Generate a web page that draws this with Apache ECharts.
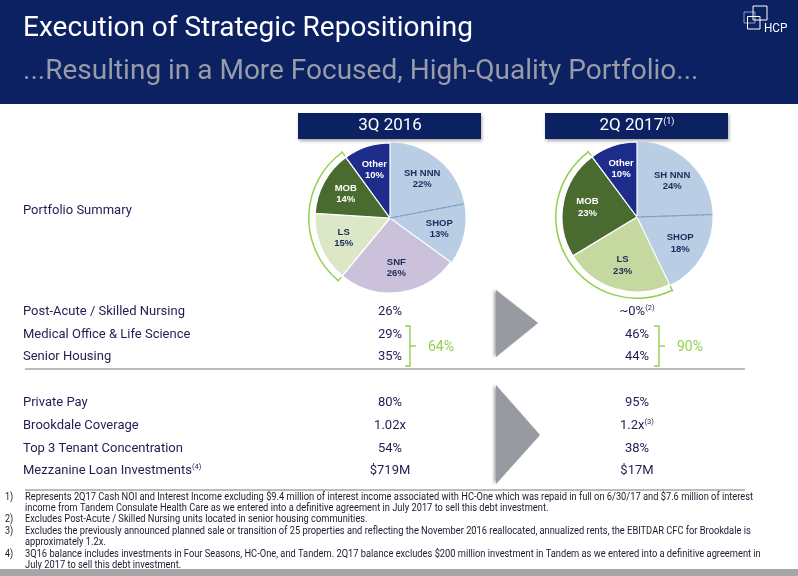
<!DOCTYPE html>
<html><head><meta charset="utf-8">
<script src="https://cdn.jsdelivr.net/npm/echarts@6/dist/echarts.min.js"></script>
<style>html,body{margin:0;padding:0;background:#fff}#c{width:798px;height:576px}</style>
</head><body><div id="c"></div>
<script>
// ---------- data ----------
const titleText = 'Execution of Strategic Repositioning';
const subtitleText = '...Resulting in a More Focused, High-Quality Portfolio...';
const periods = ['3Q 2016', '2Q 2017'];
const periodNotes = ['', '(1)'];
const pie1Categories = ['SH NNN', 'SHOP', 'SNF', 'LS', 'MOB', 'Other'];
const pie1Values = [22, 13, 26, 15, 14, 10];
const pie2Categories = ['SH NNN', 'SHOP', 'LS', 'MOB', 'Other'];
const pie2Values = [24, 18, 23, 23, 10];
const bracketCategories = ['LS', 'MOB'];
const summaryLabel = 'Portfolio Summary';
const mixRows = ['Post-Acute / Skilled Nursing', 'Medical Office & Life Science', 'Senior Housing'];
const mixRowNotes = ['', '', ''];
const mix3Q16 = ['26%', '29%', '35%'];
const mix2Q17 = ['~0%', '46%', '44%'];
const mix2Q17Notes = ['(2)', '', ''];
const mixTotals = ['64%', '90%'];
const metricRows = ['Private Pay', 'Brookdale Coverage', 'Top 3 Tenant Concentration', 'Mezzanine Loan Investments'];
const metricRowNotes = ['', '', '', '(4)'];
const metric3Q16 = ['80%', '1.02x', '54%', '$719M'];
const metric2Q17 = ['95%', '1.2x', '38%', '$17M'];
const metric2Q17Notes = ['', '(3)', '', ''];
const footnoteNums = ['1)', '', '2)', '3)', '', '4)', ''];
const footnoteLines = [
  'Represents 2Q17 Cash NOI and Interest Income excluding $9.4 million of interest income associated with HC-One which was repaid in full on 6/30/17 and $7.6 million of interest',
  'income from Tandem Consulate Health Care as we entered into a definitive agreement in July 2017 to sell this debt investment.',
  'Excludes Post-Acute / Skilled Nursing units located in senior housing communities.',
  'Excludes the previously announced planned sale or transition of 25 properties and reflecting the November 2016 reallocated, annualized rents, the EBITDAR CFC for Brookdale is',
  'approximately 1.2x.',
  '3Q16 balance includes investments in Four Seasons, HC-One, and Tandem. 2Q17 balance excludes $200 million investment in Tandem as we entered into a definitive agreement in',
  'July 2017 to sell this debt investment.'
];

// ---------- styles ----------
const NAVY = '#0b2161';
const TXT = '#1f1d52';
const GREEN = '#92d050';
const FONT = 'Roboto, "Liberation Sans", sans-serif';
const sliceColors1 = {'SH NNN': '#b9cde5', 'SHOP': '#b9cde5', 'SNF': '#ccc1da', 'LS': '#dce7c7', 'MOB': '#4a6b30', 'Other': '#1e2d8c'};
const sliceColors2 = {'SH NNN': '#b9cde5', 'SHOP': '#b9cde5', 'LS': '#c4d8a0', 'MOB': '#4a6b30', 'Other': '#1e2d8c'};
const darkSlices = ['MOB', 'Other'];

const pieCenters = [[390, 218], [637, 217]];
const pieR = 75;
const colX = [390, 637];

function mainPie(cats, vals, colors, center) {
  return {
    type: 'pie', center: center, radius: [0, pieR], startAngle: 90, clockwise: true,
    silent: true, label: {show: false}, labelLine: {show: false},
    data: cats.map((c, i) => ({
      name: c, value: vals[i],
      itemStyle: {color: colors[c], borderColor: (c === 'SH NNN' || c === 'SHOP') ? colors[c] : '#ffffff', borderWidth: 1.2}
    })),
    z: 2
  };
}
function labelPie(cats, vals, center) {
  return {
    type: 'pie', center: center, radius: [20, pieR], startAngle: 90, clockwise: true,
    silent: true, labelLine: {show: false},
    label: {show: true, position: 'inside', formatter: '{b}\n{c}%', fontFamily: '"Liberation Sans", Arial, sans-serif',
      fontWeight: 'bold', fontSize: 9.5, lineHeight: 11.5},
    data: cats.map((c, i) => ({
      name: c, value: vals[i], itemStyle: {color: 'rgba(0,0,0,0)'},
      label: {color: darkSlices.includes(c) ? '#ffffff' : '#1f2a5c'}
    })),
    z: 5
  };
}
function separatorPie(cats, vals, center) {
  const data = [];
  cats.forEach((c, i) => {
    data.push({name: c, value: vals[i], itemStyle: {color: 'rgba(0,0,0,0)', borderWidth: 0}});
    if (c === 'SH NNN') data.push({name: 'sep', value: 0, itemStyle: {color: 'rgba(0,0,0,0)', borderColor: '#7f9bc6', borderWidth: 1, borderType: 'dashed'}});
  });
  return {type: 'pie', center: center, radius: [0, pieR], startAngle: 90, clockwise: true, silent: true,
    label: {show: false}, labelLine: {show: false}, data: data, z: 3};
}
function bracketArc(cats, vals, center) {
  return {type: 'pie', center: center, radius: [80.5, 82], startAngle: 90, clockwise: true, silent: true,
    label: {show: false}, labelLine: {show: false},
    data: cats.map((c, i) => ({name: c, value: vals[i],
      itemStyle: {color: bracketCategories.includes(c) ? GREEN : 'rgba(0,0,0,0)', borderWidth: 0}})), z: 1};
}
function bracketTicks(cats, vals, center) {
  const data = [];
  const inB = cats.map(c => bracketCategories.includes(c));
  cats.forEach((c, i) => {
    const tick = {name: 't', value: 0, itemStyle: {color: 'rgba(0,0,0,0)', borderColor: GREEN, borderWidth: 1.3}};
    if (inB[i] && !inB[i - 1]) data.push(tick);
    data.push({name: c, value: vals[i], itemStyle: {color: 'rgba(0,0,0,0)', borderWidth: 0}});
    if (inB[i] && !inB[i + 1]) data.push(Object.assign({}, tick));
  });
  return {type: 'pie', center: center, radius: [77, 82], startAngle: 90, clockwise: true, silent: true,
    label: {show: false}, labelLine: {show: false}, data: data, z: 1};
}

// ---------- graphics (text/table/decor) ----------
const g = [];
g.push({type: 'rect', shape: {x: 0, y: 0, width: 798, height: 104}, style: {fill: NAVY}, silent: true});
g.push({type: 'text', x: 23, y: 29, style: {text: titleText, fill: '#ffffff', font: '28px ' + FONT, verticalAlign: 'middle'}});
g.push({type: 'text', x: 23, y: 72, style: {text: subtitleText, fill: '#989ca8', font: '28px ' + FONT, verticalAlign: 'middle'}});
// logo
g.push({type: 'rect', shape: {x: 753, y: 6, width: 14, height: 14}, style: {fill: 'none', stroke: '#ffffff', lineWidth: 1}});
g.push({type: 'rect', shape: {x: 744, y: 12, width: 11, height: 11}, style: {fill: 'none', stroke: 'rgba(255,255,255,0.55)', lineWidth: 1}});
g.push({type: 'rect', shape: {x: 747.5, y: 16.5, width: 12.5, height: 12.5}, style: {fill: 'none', stroke: '#ffffff', lineWidth: 1}});
g.push({type: 'text', x: 764, y: 29, scaleX: 0.9, style: {text: 'HCP', fill: '#ffffff', font: '13px ' + FONT, verticalAlign: 'middle'}});
// period header boxes
periods.forEach((p, i) => {
  g.push({type: 'rect', shape: {x: colX[i] - 92, y: 113, width: 183, height: 26},
    style: {fill: NAVY, shadowBlur: 3, shadowOffsetX: 1, shadowOffsetY: 2, shadowColor: 'rgba(0,0,0,0.35)'}});
  g.push({type: 'text', x: colX[i], y: 126, style: {
    text: p + (periodNotes[i] ? '{s|' + periodNotes[i] + '}' : ''), fill: '#ffffff', font: '17px ' + FONT,
    align: 'center', verticalAlign: 'middle',
    rich: {s: {fontSize: 9, fontFamily: FONT, fill: '#ffffff', verticalAlign: 'top', lineHeight: 16}}}});
});
// row label helper
function rowText(x, y, txt, note, align) {
  g.push({type: 'text', x: x, y: y, style: {
    text: txt + (note ? '{s|' + note + '}' : ''), fill: TXT, font: '13px ' + FONT, align: align, verticalAlign: 'middle',
    rich: {s: {fontSize: 7.5, fontFamily: FONT, fill: TXT, verticalAlign: 'top', lineHeight: 15}}}});
}
rowText(23, 211, summaryLabel, '', 'left');
const mixY0 = 312, mixStep = 22.5;
mixRows.forEach((r, i) => {
  const y = mixY0 + i * mixStep;
  rowText(23, y, r, mixRowNotes[i], 'left');
  rowText(colX[0], y, mix3Q16[i], '', 'center');
  rowText(colX[1], y, mix2Q17[i], mix2Q17Notes[i], 'center');
});
const metY0 = 403, metStep = 22.7;
metricRows.forEach((r, i) => {
  const y = metY0 + i * metStep;
  rowText(23, y, r, metricRowNotes[i], 'left');
  rowText(colX[0], y, metric3Q16[i], '', 'center');
  rowText(colX[1], y, metric2Q17[i], metric2Q17Notes[i], 'center');
});
// green brackets + totals
const brX = [410, 659];
mixTotals.forEach((t, i) => {
  const x = brX[i];
  g.push({type: 'polyline', shape: {points: [[x - 5, 326], [x, 326], [x, 366], [x - 5, 366]]}, style: {stroke: GREEN, lineWidth: 1.4, fill: 'none'}});
  g.push({type: 'line', shape: {x1: x, y1: 346, x2: x + 6, y2: 346}, style: {stroke: GREEN, lineWidth: 1.4}});
  g.push({type: 'text', x: x + 18, y: 347, style: {text: t, fill: GREEN, font: '14px ' + FONT, verticalAlign: 'middle'}});
});
// separators
g.push({type: 'line', shape: {x1: 25, y1: 369, x2: 745, y2: 369}, style: {stroke: '#a6a6a6', lineWidth: 1.3}});
g.push({type: 'line', shape: {x1: 25, y1: 490, x2: 745, y2: 490}, style: {stroke: '#a6a6a6', lineWidth: 1.3}});
// arrows
const arrowShadow = {shadowBlur: 3, shadowOffsetX: -2, shadowOffsetY: 0, shadowColor: 'rgba(0,0,0,0.35)'};
g.push({type: 'polygon', shape: {points: [[496, 290], [538, 323], [496, 357]]}, style: Object.assign({fill: '#979ba1'}, arrowShadow)});
g.push({type: 'polygon', shape: {points: [[496, 385], [540, 435], [496, 484]]}, style: Object.assign({fill: '#979ba1'}, arrowShadow)});
// footnotes
const fnY0 = 497, fnStep = 11.4;
footnoteLines.forEach((l, i) => {
  const y = fnY0 + i * fnStep;
  if (footnoteNums[i]) g.push({type: 'text', x: 5, y: y, scaleX: 0.9, style: {text: footnoteNums[i], fill: '#1a1a2e', font: '10px ' + FONT, verticalAlign: 'middle'}});
  g.push({type: 'text', x: 25, y: y, scaleX: 0.93, style: {text: l, fill: '#1a1a2e', font: '10px ' + FONT, verticalAlign: 'middle'}});
});
g.push({type: 'rect', shape: {x: 0, y: 569, width: 798, height: 7}, style: {fill: '#a6a6a6'}});

const chart = echarts.init(document.getElementById('c'), null, {renderer: 'canvas'});
chart.setOption({
  animation: false,
  backgroundColor: '#ffffff',
  series: [
    bracketArc(pie1Categories, pie1Values, pieCenters[0]),
    bracketTicks(pie1Categories, pie1Values, pieCenters[0]),
    mainPie(pie1Categories, pie1Values, sliceColors1, pieCenters[0]),
    separatorPie(pie1Categories, pie1Values, pieCenters[0]),
    labelPie(pie1Categories, pie1Values, pieCenters[0]),
    bracketArc(pie2Categories, pie2Values, pieCenters[1]),
    bracketTicks(pie2Categories, pie2Values, pieCenters[1]),
    mainPie(pie2Categories, pie2Values, sliceColors2, pieCenters[1]),
    separatorPie(pie2Categories, pie2Values, pieCenters[1]),
    labelPie(pie2Categories, pie2Values, pieCenters[1])
  ],
  graphic: {elements: g}
});
</script></body></html>
